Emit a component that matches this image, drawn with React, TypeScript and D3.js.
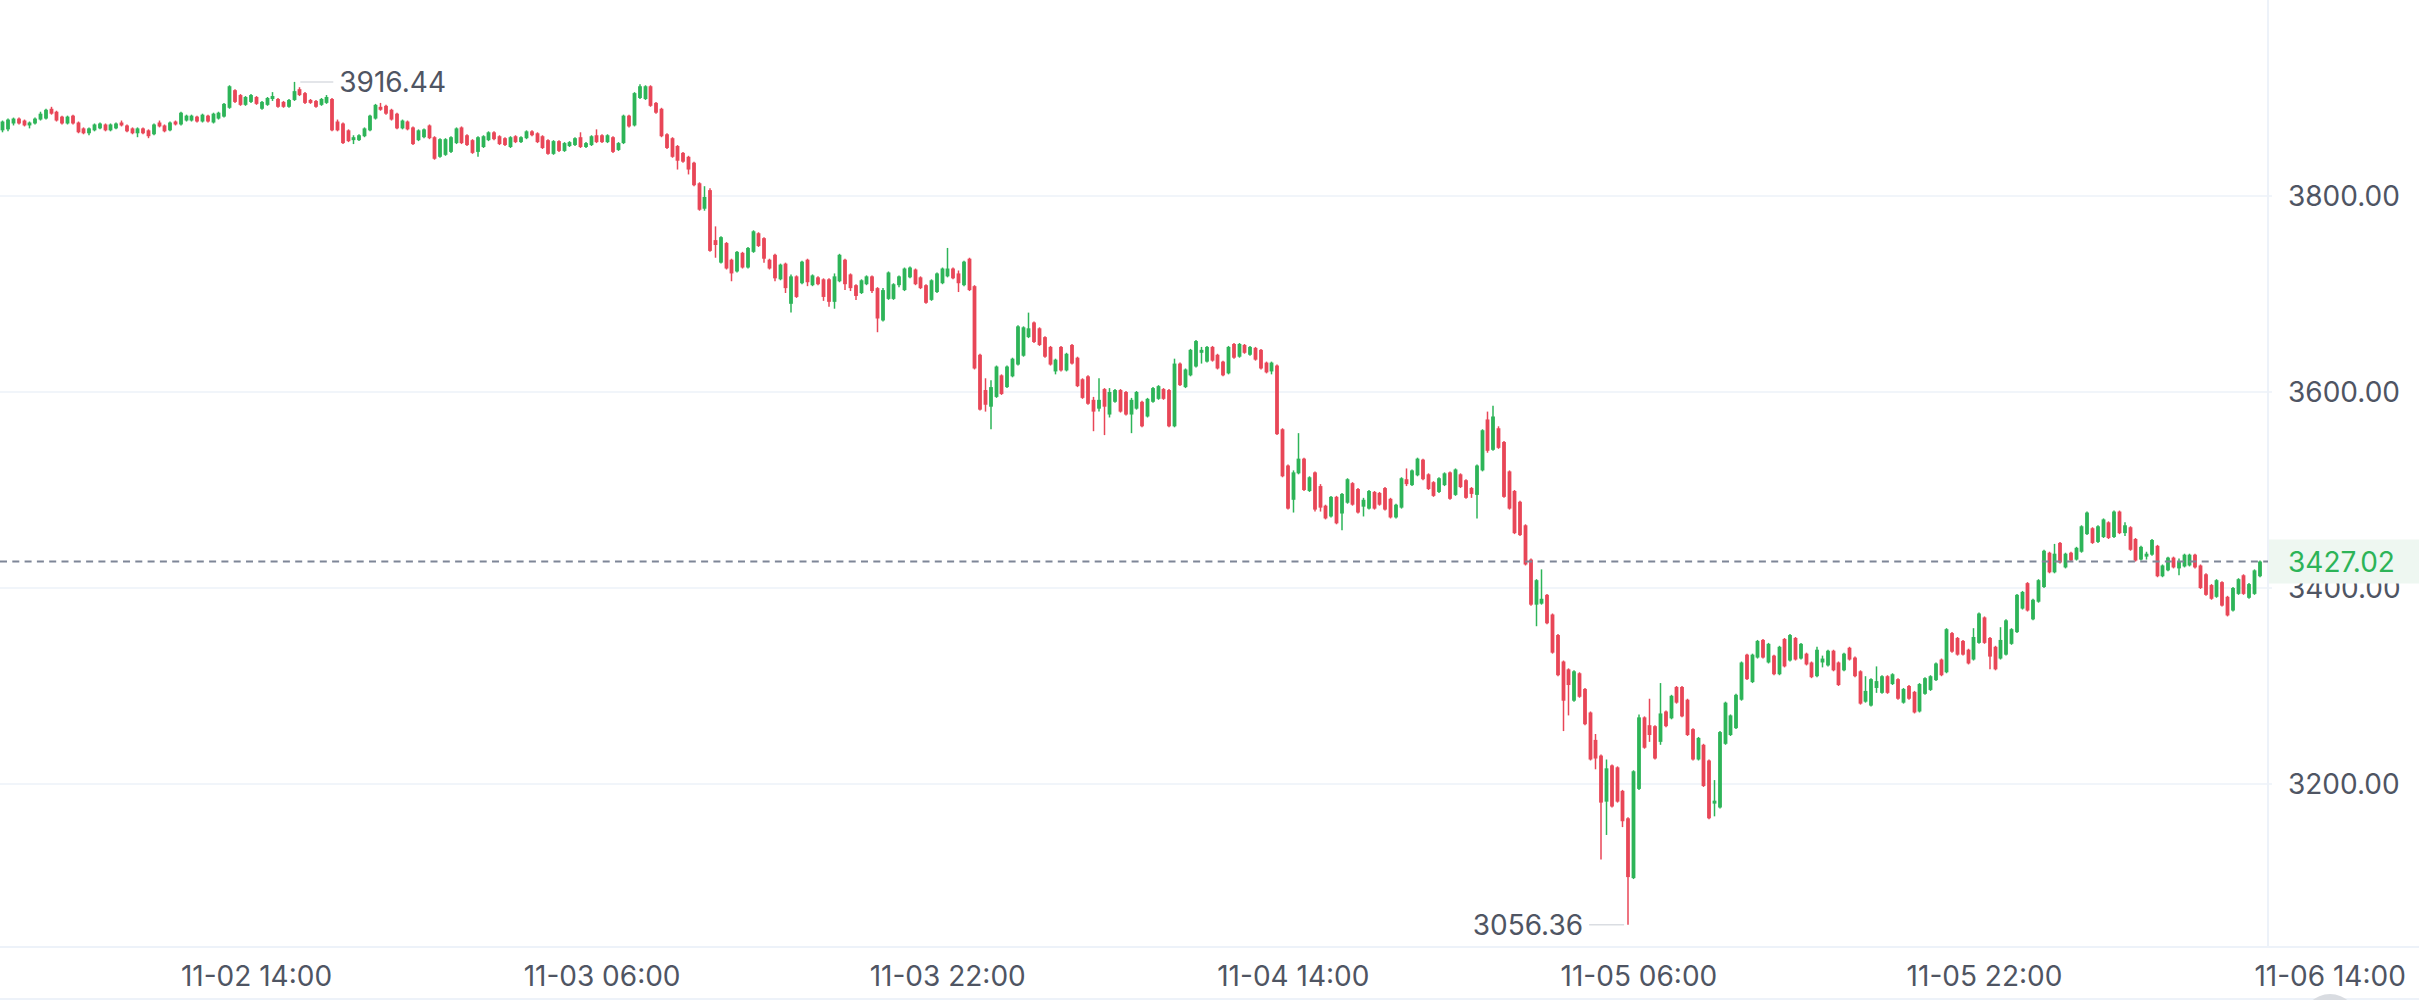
import React from "react";
import * as d3 from "d3";

// ---- data: 15-minute candles, 11-02 02:15 .. 11-06 10:45 ----
const START = new Date(2025, 10, 2, 2, 15);
const STEP_MINUTES = 15;

const OPEN = [
3867,3868,3874,3879,3877,3872,3874,3878,3879,3889,
3886,3881,3874,3882,3875,3869,3864,3867,3869,3873,
3867,3869,3875,3872,3869,3864,3869,3867,3863,3875,
3872,3867,3876,3873,3877,3877,3881,3876,3882,3875,
3879,3881,3890,3908,3903,3893,3896,3901,3889,3893,
3899,3899,3896,3891,3898,3909,3905,3898,3897,3893,
3895,3899,3876,3874,3867,3857,3857,3861,3867,3879,
3891,3892,3888,3884,3869,3876,3870,3857,3860,3872,
3860,3840,3842,3845,3854,3870,3862,3857,3845,3850,
3857,3865,3861,3859,3850,3861,3855,3859,3866,3864,
3861,3857,3843,3856,3846,3851,3852,3860,3850,3852,
3862,3862,3855,3860,3847,3854,3882,3872,3900,3899,
3912,3895,3889,3863,3859,3851,3844,3840,3834,3813,
3787,3806,3755,3732,3752,3735,3723,3742,3727,3743,
3762,3757,3735,3740,3715,3731,3690,3718,3711,3735,
3709,3717,3715,3715,3692,3713,3735,3720,3709,3701,
3710,3718,3706,3673,3695,3695,3709,3704,3717,3725,
3717,3709,3694,3702,3711,3718,3726,3721,3709,3736,
3708,3638,3602,3585,3595,3617,3605,3616,3628,3637,
3656,3671,3665,3656,3646,3621,3646,3622,3648,3635,
3613,3616,3592,3583,3603,3577,3590,3602,3600,3577,
3583,3590,3575,3590,3593,3603,3602,3565,3629,3605,
3617,3626,3640,3631,3646,3638,3631,3619,3649,3636,
3648,3638,3645,3643,3630,3621,3627,3562,3525,3490,
3517,3532,3499,3518,3504,3484,3473,3493,3476,3487,
3507,3501,3483,3481,3498,3497,3502,3491,3472,3482,
3511,3505,3515,3531,3516,3508,3498,3505,3518,3495,
3516,3510,3502,3495,3520,3572,3541,3563,3549,3519,
3499,3488,3464,3429,3383,3384,3393,3373,3352,3325,
3317,3285,3313,3297,3273,3245,3229,3182,3219,3217,
3193,3165,3104,3195,3268,3260,3259,3243,3274,3267,
3299,3299,3286,3256,3225,3240,3224,3180,3176,3241,
3250,3257,3286,3332,3304,3329,3347,3324,3331,3312,
3348,3326,3349,3328,3333,3324,3310,3324,3321,3336,
3324,3316,3339,3329,3315,3284,3280,3298,3293,3310,
3302,3307,3283,3300,3294,3274,3292,3296,3306,3327,
3314,3354,3349,3346,3337,3327,3344,3370,3349,3340,
3328,3332,3343,3355,3379,3405,3368,3386,3401,3436,
3416,3446,3421,3436,3429,3437,3455,3461,3447,3452,
3467,3452,3478,3456,3462,3450,3429,3432,3434,3443,
3412,3418,3431,3420,3422,3423,3434,3423,3414,3403,
3391,3406,3391,3377,3394,3413,3390,3394,3412,
];

const HIGH = [
3877,3879,3880,3880,3878,3876,3880,3886,3889,3891,
3887,3882,3882,3883,3876,3870,3870,3874,3875,3874,
3874,3875,3877,3873,3870,3870,3870,3868,3874,3877,
3873,3876,3877,3886,3883,3883,3882,3884,3883,3885,
3886,3895,3913,3909,3904,3902,3904,3902,3897,3901,
3906,3900,3897,3899,3916.44,3911,3906,3899,3898,3900,
3903,3900,3878,3875,3868,3862,3863,3870,3883,3894,
3895,3893,3889,3885,3878,3877,3871,3868,3869,3873,
3861,3859,3859,3861,3870,3871,3863,3858,3861,3862,
3866,3866,3862,3860,3861,3862,3861,3867,3867,3865,
3862,3858,3857,3857,3855,3856,3860,3865,3855,3862,
3868,3863,3863,3861,3855,3883,3883,3906,3914,3913,
3913,3896,3890,3864,3860,3852,3845,3841,3835,3814,
3810,3808,3769,3759,3753,3736,3744,3743,3748,3765,
3763,3758,3736,3741,3731,3732,3720,3719,3734,3736,
3720,3718,3716,3716,3721,3741,3736,3721,3710,3715,
3719,3719,3707,3706,3723,3711,3719,3727,3728,3726,
3718,3710,3715,3722,3727,3747,3727,3724,3734,3737,
3709,3639,3614,3612,3627,3618,3627,3635,3668,3667,
3681,3672,3666,3657,3647,3634,3647,3640,3649,3636,
3614,3617,3595,3614,3604,3604,3603,3603,3601,3594,
3601,3591,3594,3605,3607,3604,3603,3634,3630,3624,
3644,3653,3646,3647,3647,3639,3632,3647,3650,3650,
3649,3647,3646,3644,3631,3631,3628,3563,3526,3520,
3558,3533,3514,3519,3506,3485,3494,3494,3497,3512,
3508,3502,3492,3500,3499,3498,3503,3492,3486,3513,
3522,3521,3533,3532,3517,3509,3513,3518,3519,3522,
3517,3511,3503,3526,3562,3580,3586,3565,3550,3520,
3500,3489,3465,3430,3409,3419,3394,3374,3353,3326,
3318,3316,3314,3298,3274,3251,3230,3225,3220,3218,
3194,3166,3214,3271,3269,3287,3260,3303,3275,3291,
3300,3300,3287,3257,3248,3241,3225,3204,3254,3284,
3271,3292,3325,3333,3333,3347,3348,3344,3332,3341,
3349,3353,3350,3344,3334,3325,3340,3331,3337,3337,
3325,3334,3340,3330,3316,3310,3308,3320,3311,3311,
3313,3308,3298,3301,3295,3303,3309,3311,3324,3328,
3359,3355,3350,3347,3338,3359,3375,3371,3350,3341,
3360,3368,3359,3394,3397,3406,3389,3409,3439,3437,
3445,3447,3436,3437,3442,3464,3478,3462,3464,3471,
3468,3479,3479,3467,3463,3451,3443,3437,3450,3444,
3424,3432,3432,3430,3435,3435,3435,3424,3415,3404,
3409,3407,3392,3401,3410,3414,3405,3419,3428,
];

const LOW = [
3865,3866,3872,3873,3871,3869,3873,3877,3878,3883,
3876,3873,3873,3873,3864,3863,3862,3866,3868,3866,
3866,3868,3871,3865,3863,3860,3863,3859,3862,3870,
3865,3866,3872,3872,3876,3876,3875,3875,3875,3874,
3878,3880,3889,3895,3892,3892,3895,3893,3888,3892,
3897,3890,3890,3890,3897,3902,3894,3894,3890,3892,
3894,3866,3866,3853,3855,3853,3856,3860,3866,3878,
3887,3883,3877,3868,3868,3867,3852,3856,3859,3858,
3837,3839,3841,3844,3853,3853,3851,3843,3840,3849,
3856,3857,3852,3851,3849,3854,3854,3858,3861,3854,
3848,3842,3842,3845,3845,3850,3851,3849,3849,3851,
3854,3854,3854,3844,3846,3853,3870,3871,3899,3898,
3891,3884,3860,3848,3839,3827,3834,3822,3810,3785,
3785,3743,3737,3731,3725,3713,3722,3726,3726,3742,
3748,3732,3725,3713,3714,3701,3681,3696,3710,3708,
3708,3709,3693,3687,3685,3712,3704,3703,3694,3700,
3709,3701,3661,3672,3694,3694,3707,3703,3716,3709,
3705,3690,3693,3701,3710,3717,3715,3702,3708,3703,
3623,3581,3580,3562,3594,3597,3604,3615,3627,3636,
3655,3650,3647,3635,3627,3618,3621,3621,3628,3605,
3593,3587,3560,3580,3556,3574,3589,3579,3576,3558,
3582,3564,3574,3589,3592,3592,3564,3564,3606,3604,
3616,3625,3629,3630,3631,3623,3616,3618,3634,3635,
3639,3637,3632,3623,3619,3618,3556,3513,3480,3477,
3516,3499,3498,3478,3478,3470,3472,3465,3459,3486,
3484,3476,3473,3480,3480,3484,3479,3471,3471,3481,
3504,3504,3514,3510,3500,3493,3497,3504,3490,3494,
3502,3491,3492,3471,3519,3538,3540,3542,3492,3480,
3455,3453,3423,3382,3361,3383,3363,3333,3310,3254,
3270,3284,3288,3260,3224,3215,3123,3148,3176,3181,
3156,3056.36,3103,3194,3236,3243,3225,3240,3258,3266,
3282,3268,3249,3224,3224,3197,3164,3167,3175,3240,
3249,3256,3285,3306,3303,3328,3328,3323,3311,3311,
3319,3325,3326,3327,3321,3308,3309,3319,3320,3315,
3300,3315,3326,3309,3281,3283,3279,3293,3292,3292,
3301,3286,3282,3286,3272,3273,3291,3295,3305,3310,
3313,3334,3331,3331,3322,3326,3343,3343,3317,3316,
3327,3331,3342,3354,3378,3376,3367,3385,3400,3415,
3415,3425,3420,3427,3428,3436,3454,3445,3446,3451,
3450,3451,3455,3453,3438,3427,3428,3429,3433,3411,
3411,3417,3420,3413,3421,3422,3420,3399,3392,3388,
3390,3381,3371,3376,3393,3393,3389,3393,3411,
];

const CLOSE = [
3876,3878,3879,3874,3872,3875,3879,3884,3888,3884,
3877,3874,3881,3874,3865,3864,3869,3873,3874,3867,
3873,3874,3872,3866,3864,3869,3864,3861,3873,3871,
3866,3875,3873,3885,3882,3882,3876,3883,3876,3884,
3885,3894,3912,3896,3893,3901,3903,3894,3896,3900,
3902,3891,3891,3898,3907,3903,3895,3895,3891,3899,
3901,3867,3867,3854,3856,3860,3862,3869,3882,3893,
3888,3884,3878,3869,3877,3868,3853,3867,3868,3859,
3838,3858,3858,3860,3869,3854,3852,3844,3860,3861,
3865,3858,3853,3852,3860,3855,3860,3866,3862,3855,
3849,3843,3856,3846,3854,3855,3859,3850,3854,3861,
3855,3855,3862,3845,3854,3882,3871,3905,3912,3912,
3892,3885,3861,3849,3840,3836,3835,3827,3811,3786,
3799,3744,3750,3758,3726,3721,3743,3727,3747,3764,
3749,3736,3726,3716,3730,3706,3718,3697,3733,3712,
3719,3710,3697,3692,3718,3740,3710,3706,3698,3714,
3718,3703,3675,3704,3722,3710,3718,3726,3727,3710,
3706,3691,3714,3721,3726,3726,3716,3711,3733,3704,
3624,3582,3587,3605,3626,3598,3626,3634,3667,3666,
3665,3651,3648,3636,3628,3633,3622,3639,3629,3606,
3594,3588,3580,3592,3585,3600,3602,3580,3577,3592,
3600,3565,3593,3604,3606,3593,3565,3629,3607,3623,
3643,3652,3643,3646,3632,3624,3617,3646,3635,3649,
3640,3646,3633,3624,3620,3630,3557,3514,3481,3518,
3532,3500,3513,3480,3482,3471,3493,3466,3496,3511,
3485,3477,3490,3499,3481,3485,3480,3472,3485,3512,
3506,3520,3532,3511,3501,3494,3512,3517,3491,3521,
3503,3492,3496,3525,3561,3540,3575,3543,3493,3481,
3456,3454,3424,3383,3408,3389,3364,3334,3311,3285,
3301,3315,3289,3261,3225,3226,3181,3216,3177,3182,
3162,3105,3213,3268,3237,3250,3226,3272,3259,3290,
3283,3269,3250,3225,3247,3198,3165,3183,3253,3283,
3270,3291,3324,3307,3332,3346,3329,3343,3312,3340,
3320,3352,3327,3343,3322,3309,3337,3328,3336,3316,
3301,3333,3327,3310,3282,3295,3307,3305,3310,3293,
3312,3287,3297,3287,3273,3302,3308,3310,3323,3311,
3358,3335,3332,3332,3323,3350,3374,3344,3330,3317,
3347,3367,3358,3393,3396,3377,3388,3408,3438,3416,
3435,3426,3435,3428,3441,3463,3477,3446,3463,3470,
3451,3478,3456,3464,3439,3428,3442,3435,3449,3412,
3423,3431,3421,3427,3434,3434,3421,3400,3393,3389,
3408,3382,3372,3400,3409,3394,3404,3418,3427.02,
];

const PRICE_TICKS = [3200, 3400, 3600, 3800];
const TIME_TICKS = [
  new Date(2025, 10, 2, 14, 0),
  new Date(2025, 10, 3, 6, 0),
  new Date(2025, 10, 3, 22, 0),
  new Date(2025, 10, 4, 14, 0),
  new Date(2025, 10, 5, 6, 0),
  new Date(2025, 10, 5, 22, 0),
  new Date(2025, 10, 6, 14, 0),
];

const UP = "#2DB458";
const DOWN = "#E84657";
const GRID = "#EDF2F9";
const TEXT = "#4F5563";
const FONT = "Inter, 'Noto Sans', sans-serif";

export default function App() {
  const W = 2419;
  const H = 1000;
  const plotRight = 2268;
  const axisY = 947;
  const n = CLOSE.length;
  const times = d3.range(n).map((i) => new Date(START.getTime() + i * STEP_MINUTES * 60000));
  const step = 5.4;
  const x = d3.scaleTime().domain([times[0], times[n - 1]]).range([2.7, 2.7 + (n - 1) * step]);
  const y = d3.scaleLinear().domain([3200, 3800]).range([784, 196]);
  const bw = 3.8;
  const fs = 28;
  const fmt = d3.timeFormat("%m-%d %H:%M");
  const last = CLOSE[n - 1];
  const hiI = d3.maxIndex(HIGH);
  const loI = d3.minIndex(LOW);

  return (
    <div style={{ position: "absolute", left: 0, top: 0, width: W, height: H, background: "#fff" }}>
      <svg width={W} height={H} style={{ display: "block", fontFamily: FONT }}>
        <rect x={0} y={0} width={W} height={H} fill="#fff" />
        {PRICE_TICKS.map((p) => (
          <line key={p} x1={0} x2={plotRight + 4} y1={y(p)} y2={y(p)} stroke={GRID} strokeWidth={1.5} />
        ))}
        <line x1={plotRight} x2={plotRight} y1={0} y2={axisY} stroke={GRID} strokeWidth={2} />
        <line x1={0} x2={W} y1={axisY} y2={axisY} stroke={GRID} strokeWidth={2} />
        <line x1={0} x2={W} y1={999} y2={999} stroke={GRID} strokeWidth={2} />

        {/* candles */}
        {times.map((t, i) => {
          const o = OPEN[i], c = CLOSE[i];
          const hi = Math.max(HIGH[i], o, c), lo = Math.min(LOW[i], o, c);
          const col = c >= o ? UP : DOWN;
          const cx = Math.round(x(t) * 2) / 2;
          const top = y(Math.max(o, c));
          const bh = Math.max(1.5, Math.abs(y(o) - y(c)));
          return (
            <g key={i}>
              <line x1={cx} x2={cx} y1={y(hi)} y2={y(lo)} stroke={col} strokeWidth={1.5} />
              <rect x={cx - bw / 2} y={top} width={bw} height={bh} fill={col} />
            </g>
          );
        })}

        {/* last price dashed line */}
        <line x1={0} x2={plotRight} y1={y(last)} y2={y(last)} stroke="#7E8697" strokeWidth={2} strokeDasharray="7 5.3" />

        {/* y-axis labels */}
        {PRICE_TICKS.map((p) => (
          <text key={p} x={2288} y={y(p)} dy="0.36em" fontSize={fs} fill={TEXT}>
            {p.toFixed(2)}
          </text>
        ))}
        <rect x={plotRight + 1} y={y(last) - 22} width={W - plotRight - 1} height={44} fill="#EEF7F1" />
        <text x={2288} y={y(last)} dy="0.36em" fontSize={fs} fill={UP}>
          {last.toFixed(2)}
        </text>

        {/* x-axis labels */}
        {TIME_TICKS.map((t) => (
          <text key={+t} x={x(t)} y={976} dy="0.36em" textAnchor="middle" fontSize={fs} fill={TEXT}>
            {fmt(t)}
          </text>
        ))}

        {/* max / min markers */}
        <line x1={x(times[hiI]) + 6} x2={x(times[hiI]) + 39} y1={y(HIGH[hiI])} y2={y(HIGH[hiI])} stroke="#DADDE2" strokeWidth={1.5} />
        <text x={x(times[hiI]) + 45} y={y(HIGH[hiI])} dy="0.36em" fontSize={fs} fill={TEXT}>
          {HIGH[hiI].toFixed(2)}
        </text>
        <line x1={x(times[loI]) - 39} x2={x(times[loI]) - 4} y1={y(LOW[loI])} y2={y(LOW[loI])} stroke="#DADDE2" strokeWidth={1.5} />
        <text x={x(times[loI]) - 45} y={y(LOW[loI])} dy="0.36em" textAnchor="end" fontSize={fs} fill={TEXT}>
          {LOW[loI].toFixed(2)}
        </text>

        <circle cx={2330} cy={1022} r={28} fill="#D9DCE1" />
      </svg>
    </div>
  );
}
